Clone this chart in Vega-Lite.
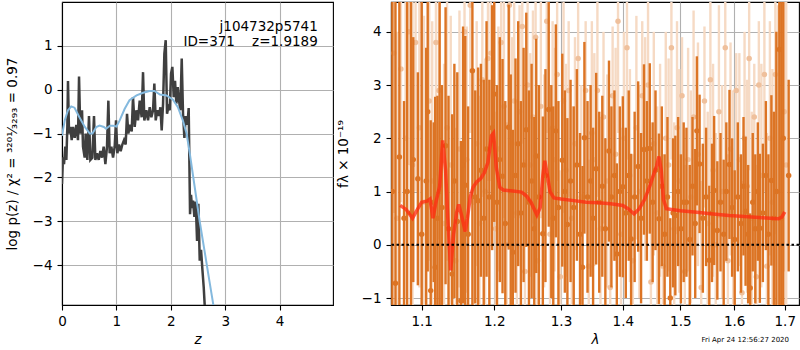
{
"$schema":"https://vega.github.io/schema/vega-lite/v6.json",
"padding":{"left":4,"top":1,"right":0,"bottom":0},
"background":"white",
"spacing":58,
"bounds":"flush",
"config":{
 "font":"DejaVu Sans",
 "view":{"stroke":"black","strokeWidth":1.1},
 "axis":{"labelFont":"DejaVu Sans","labelFontSize":13.5,"labelColor":"black","titleFont":"DejaVu Sans","titleFontSize":13.5,"titleFontWeight":"normal","titleColor":"black","tickColor":"black","tickSize":5,"tickWidth":1.1,"domainColor":"black","domainWidth":1.1,"gridColor":"#b0b0b0","gridWidth":1.1,"zindex":1,"labelFlush":false,"labelOverlap":false},
 "axisX":{"labelPadding":4,"titlePadding":5},
 "axisY":{"labelPadding":5}
},
"datasets":{
"pz":[{"z":0.000,"v":-2.15},{"z":0.018,"v":-1.54},{"z":0.037,"v":-1.70},{"z":0.061,"v":-1.30},{"z":0.080,"v":-1.60},{"z":0.098,"v":-0.85},{"z":0.110,"v":0.20},{"z":0.129,"v":-1.00},{"z":0.153,"v":-0.85},{"z":0.178,"v":-1.15},{"z":0.202,"v":-0.85},{"z":0.233,"v":-1.10},{"z":0.263,"v":-0.80},{"z":0.294,"v":-1.15},{"z":0.313,"v":0.30},{"z":0.337,"v":-1.00},{"z":0.368,"v":-0.47},{"z":0.386,"v":-1.30},{"z":0.417,"v":-1.55},{"z":0.435,"v":-1.00},{"z":0.466,"v":-1.60},{"z":0.496,"v":-0.60},{"z":0.521,"v":-1.60},{"z":0.558,"v":-1.55},{"z":0.588,"v":-0.60},{"z":0.613,"v":-1.60},{"z":0.643,"v":-1.45},{"z":0.674,"v":-1.60},{"z":0.705,"v":-1.40},{"z":0.735,"v":-1.55},{"z":0.766,"v":-1.30},{"z":0.797,"v":-1.70},{"z":0.827,"v":-1.30},{"z":0.852,"v":-0.25},{"z":0.876,"v":-1.45},{"z":0.907,"v":-1.30},{"z":0.938,"v":-1.55},{"z":0.968,"v":-1.30},{"z":0.993,"v":-0.70},{"z":1.017,"v":-1.45},{"z":1.048,"v":-1.25},{"z":1.078,"v":-1.40},{"z":1.109,"v":-1.25},{"z":1.140,"v":-1.15},{"z":1.170,"v":-1.25},{"z":1.195,"v":-0.55},{"z":1.219,"v":-1.00},{"z":1.250,"v":-0.80},{"z":1.281,"v":-0.95},{"z":1.305,"v":-0.17},{"z":1.336,"v":-0.85},{"z":1.366,"v":-0.47},{"z":1.397,"v":-0.70},{"z":1.428,"v":-0.25},{"z":1.464,"v":-0.63},{"z":1.489,"v":0.40},{"z":1.513,"v":-0.70},{"z":1.550,"v":-0.47},{"z":1.581,"v":-0.70},{"z":1.612,"v":-0.40},{"z":1.642,"v":-0.63},{"z":1.673,"v":-0.47},{"z":1.697,"v":0.14},{"z":1.722,"v":-0.70},{"z":1.752,"v":-0.47},{"z":1.783,"v":-0.60},{"z":1.808,"v":-0.40},{"z":1.832,"v":-0.93},{"z":1.857,"v":-0.32},{"z":1.881,"v":0.82},{"z":1.906,"v":1.13},{"z":1.930,"v":-0.55},{"z":1.955,"v":-0.40},{"z":1.979,"v":-0.47},{"z":2.004,"v":0.37},{"z":2.028,"v":0.52},{"z":2.053,"v":-0.17},{"z":2.077,"v":0.20},{"z":2.102,"v":-0.32},{"z":2.126,"v":0.06},{"z":2.151,"v":-0.25},{"z":2.175,"v":-0.47},{"z":2.200,"v":0.71},{"z":2.224,"v":-0.55},{"z":2.249,"v":-1.10},{"z":2.273,"v":-0.60},{"z":2.304,"v":-0.80},{"z":2.328,"v":-0.42},{"z":2.353,"v":-2.84},{"z":2.371,"v":-2.40},{"z":2.390,"v":-2.70},{"z":2.408,"v":-2.53},{"z":2.433,"v":-2.90},{"z":2.457,"v":-2.55},{"z":2.482,"v":-3.45},{"z":2.506,"v":-2.60},{"z":2.531,"v":-3.90},{"z":2.555,"v":-3.65},{"z":2.580,"v":-4.10},{"z":2.604,"v":-4.50},{"z":2.635,"v":-5.20}],
"fit":[{"z":0.00,"v":-1.05},{"z":0.05,"v":-0.70},{"z":0.11,"v":-0.47},{"z":0.17,"v":-0.38},{"z":0.23,"v":-0.41},{"z":0.32,"v":-0.63},{"z":0.42,"v":-0.85},{"z":0.51,"v":-1.00},{"z":0.56,"v":-1.00},{"z":0.63,"v":-0.85},{"z":0.69,"v":-0.82},{"z":0.77,"v":-0.85},{"z":0.81,"v":-0.89},{"z":0.88,"v":-0.82},{"z":0.94,"v":-0.82},{"z":1.00,"v":-0.84},{"z":1.06,"v":-0.70},{"z":1.15,"v":-0.44},{"z":1.24,"v":-0.24},{"z":1.37,"v":-0.13},{"z":1.49,"v":-0.07},{"z":1.61,"v":-0.03},{"z":1.70,"v":-0.03},{"z":1.80,"v":-0.11},{"z":1.92,"v":-0.13},{"z":2.04,"v":-0.23},{"z":2.13,"v":-0.40},{"z":2.22,"v":-0.70},{"z":2.29,"v":-1.00},{"z":2.35,"v":-1.47},{"z":2.44,"v":-2.23},{"z":2.53,"v":-3.00},{"z":2.62,"v":-3.68},{"z":2.71,"v":-4.37},{"z":2.80,"v":-5.05}],
"mod":[{"l":1.072,"f":0.74},{"l":1.080,"f":0.66},{"l":1.088,"f":0.50},{"l":1.095,"f":0.68},{"l":1.100,"f":0.80},{"l":1.107,"f":0.82},{"l":1.111,"f":0.86},{"l":1.115,"f":0.50},{"l":1.119,"f":0.80},{"l":1.124,"f":1.10},{"l":1.128,"f":1.96},{"l":1.132,"f":1.40},{"l":1.135,"f":0.50},{"l":1.139,"f":-0.48},{"l":1.143,"f":0.20},{"l":1.147,"f":0.60},{"l":1.150,"f":0.76},{"l":1.154,"f":0.55},{"l":1.159,"f":0.25},{"l":1.162,"f":0.50},{"l":1.166,"f":0.90},{"l":1.170,"f":1.08},{"l":1.175,"f":1.18},{"l":1.181,"f":1.25},{"l":1.186,"f":1.36},{"l":1.191,"f":1.55},{"l":1.196,"f":2.05},{"l":1.199,"f":2.10},{"l":1.203,"f":1.45},{"l":1.208,"f":1.08},{"l":1.213,"f":1.03},{"l":1.227,"f":1.01},{"l":1.240,"f":0.99},{"l":1.247,"f":0.92},{"l":1.254,"f":0.80},{"l":1.263,"f":0.56},{"l":1.268,"f":0.70},{"l":1.272,"f":1.30},{"l":1.275,"f":1.58},{"l":1.279,"f":1.30},{"l":1.283,"f":1.00},{"l":1.289,"f":0.88},{"l":1.300,"f":0.86},{"l":1.320,"f":0.83},{"l":1.340,"f":0.80},{"l":1.360,"f":0.79},{"l":1.380,"f":0.77},{"l":1.400,"f":0.74},{"l":1.410,"f":0.67},{"l":1.419,"f":0.58},{"l":1.428,"f":0.68},{"l":1.437,"f":0.85},{"l":1.446,"f":1.10},{"l":1.452,"f":1.30},{"l":1.458,"f":1.48},{"l":1.462,"f":1.66},{"l":1.466,"f":1.40},{"l":1.470,"f":0.85},{"l":1.475,"f":0.68},{"l":1.500,"f":0.64},{"l":1.530,"f":0.61},{"l":1.560,"f":0.58},{"l":1.590,"f":0.55},{"l":1.620,"f":0.53},{"l":1.655,"f":0.51},{"l":1.687,"f":0.49},{"l":1.694,"f":0.52},{"l":1.700,"f":0.62}],
"dk":[{"l":1.062,"f":1.0,"lo":-4,"hi":6},{"l":1.066,"f":-0.72,"lo":-6.22,"hi":4.78},{"l":1.071,"f":1.65,"lo":-2.35,"hi":5.65},{"l":1.077,"f":0.5,"lo":-1.7,"hi":2.7},{"l":1.081,"f":1.0,"lo":-3.5,"hi":5.5},{"l":1.086,"f":0.6,"lo":-4.4,"hi":5.6},{"l":1.089,"f":1.6,"lo":-0.7,"hi":3.9},{"l":1.095,"f":1.24,"lo":-0.76,"hi":3.24},{"l":1.100,"f":0.2,"lo":-4.3,"hi":4.7},{"l":1.106,"f":1.2,"lo":-1.3,"hi":3.7},{"l":1.108,"f":2.5,"lo":-0.5,"hi":5.5},{"l":1.112,"f":-0.86,"lo":-4.06,"hi":2.34},{"l":1.116,"f":0.8,"lo":-0.7,"hi":2.3},{"l":1.118,"f":-0.42,"lo":-3.62,"hi":2.78},{"l":1.121,"f":0.5,"lo":-1.8,"hi":2.8},{"l":1.124,"f":1.0,"lo":-3.5,"hi":5.5},{"l":1.127,"f":0.7,"lo":-1.6,"hi":3.0},{"l":1.132,"f":1.86,"lo":-0.74,"hi":4.46},{"l":1.136,"f":0.3,"lo":-2.2,"hi":2.8},{"l":1.141,"f":-0.55,"lo":-3.55,"hi":2.45},{"l":1.144,"f":1.2,"lo":-1.0,"hi":3.4},{"l":1.148,"f":0.44,"lo":-2.36,"hi":3.24},{"l":1.153,"f":-1.05,"lo":-4.05,"hi":1.95},{"l":1.156,"f":1.5,"lo":-1.1,"hi":4.1},{"l":1.159,"f":1.12,"lo":-1.68,"hi":3.92},{"l":1.163,"f":0.2,"lo":-2.2,"hi":2.6},{"l":1.169,"f":3.27,"lo":-1.23,"hi":7.77},{"l":1.173,"f":0.9,"lo":-1.1,"hi":2.9},{"l":1.177,"f":0.83,"lo":-1.67,"hi":3.33},{"l":1.181,"f":1.4,"lo":-0.6,"hi":3.4},{"l":1.185,"f":0.5,"lo":-2.1,"hi":3.1},{"l":1.189,"f":1.8,"lo":-0.6,"hi":4.2},{"l":1.193,"f":0.9,"lo":-1.3,"hi":3.1},{"l":1.197,"f":2.2,"lo":-0.1,"hi":4.5},{"l":1.200,"f":2.83,"lo":0.43,"hi":5.23},{"l":1.204,"f":0.8,"lo":-1.4,"hi":3.0},{"l":1.208,"f":1.6,"lo":-0.7,"hi":3.9},{"l":1.212,"f":1.29,"lo":-0.91,"hi":3.49},{"l":1.216,"f":0.4,"lo":-1.9,"hi":2.7},{"l":1.221,"f":2.21,"lo":-0.09,"hi":4.51},{"l":1.224,"f":1.0,"lo":-1.2,"hi":3.2},{"l":1.227,"f":-0.14,"lo":-2.44,"hi":2.16},{"l":1.231,"f":1.3,"lo":-0.9,"hi":3.5},{"l":1.235,"f":1.9,"lo":-0.4,"hi":4.2},{"l":1.239,"f":0.6,"lo":-1.5,"hi":2.7},{"l":1.243,"f":1.5,"lo":-0.7,"hi":3.7},{"l":1.247,"f":2.16,"lo":-0.04,"hi":4.36},{"l":1.251,"f":0.8,"lo":-1.3,"hi":2.9},{"l":1.255,"f":1.2,"lo":-1.0,"hi":3.4},{"l":1.259,"f":0.3,"lo":-1.8,"hi":2.4},{"l":1.262,"f":1.67,"lo":-0.53,"hi":3.87},{"l":1.266,"f":0.9,"lo":-1.2,"hi":3.0},{"l":1.272,"f":0.21,"lo":-1.99,"hi":2.41},{"l":1.276,"f":1.3,"lo":-0.7,"hi":3.3},{"l":1.281,"f":2.54,"lo":0.34,"hi":4.74},{"l":1.285,"f":1.0,"lo":-1.0,"hi":3.0},{"l":1.288,"f":0.5,"lo":-1.6,"hi":2.6},{"l":1.292,"f":2.14,"lo":0.14,"hi":4.14},{"l":1.296,"f":0.7,"lo":-1.3,"hi":2.7},{"l":1.302,"f":1.59,"lo":-0.41,"hi":3.59},{"l":1.306,"f":1.0,"lo":-0.9,"hi":2.9},{"l":1.310,"f":0.38,"lo":-1.62,"hi":2.38},{"l":1.315,"f":1.2,"lo":-0.7,"hi":3.1},{"l":1.320,"f":0.7,"lo":-1.2,"hi":2.6},{"l":1.325,"f":1.5,"lo":-0.3,"hi":3.3},{"l":1.330,"f":0.2,"lo":-1.7,"hi":2.1},{"l":1.334,"f":-0.42,"lo":-2.32,"hi":1.48},{"l":1.337,"f":2.01,"lo":0.21,"hi":3.81},{"l":1.342,"f":0.9,"lo":-0.9,"hi":2.7},{"l":1.347,"f":1.2,"lo":-0.6,"hi":3.0},{"l":1.351,"f":0.5,"lo":-1.2,"hi":2.2},{"l":1.356,"f":1.43,"lo":-0.37,"hi":3.23},{"l":1.361,"f":0.8,"lo":-0.9,"hi":2.5},{"l":1.366,"f":1.1,"lo":-0.6,"hi":2.8},{"l":1.371,"f":0.3,"lo":-1.4,"hi":2.0},{"l":1.377,"f":1.76,"lo":0.06,"hi":3.46},{"l":1.381,"f":0.9,"lo":-0.8,"hi":2.6},{"l":1.386,"f":1.3,"lo":-0.3,"hi":2.9},{"l":1.390,"f":-0.17,"lo":-1.87,"hi":1.53},{"l":1.395,"f":1.0,"lo":-0.6,"hi":2.6},{"l":1.400,"f":1.09,"lo":-0.61,"hi":2.79},{"l":1.405,"f":0.6,"lo":-1.0,"hi":2.2},{"l":1.410,"f":1.3,"lo":-0.3,"hi":2.9},{"l":1.414,"f":0.11,"lo":-1.49,"hi":1.71},{"l":1.420,"f":0.9,"lo":-0.7,"hi":2.5},{"l":1.426,"f":1.47,"lo":-0.13,"hi":3.07},{"l":1.431,"f":0.5,"lo":-1.1,"hi":2.1},{"l":1.436,"f":1.79,"lo":0.19,"hi":3.39},{"l":1.441,"f":1.2,"lo":-0.3,"hi":2.7},{"l":1.446,"f":1.81,"lo":0.21,"hi":3.41},{"l":1.451,"f":0.8,"lo":-0.7,"hi":2.3},{"l":1.456,"f":1.4,"lo":-0.1,"hi":2.9},{"l":1.462,"f":0.49,"lo":-1.11,"hi":2.09},{"l":1.467,"f":1.1,"lo":-0.4,"hi":2.6},{"l":1.472,"f":0.2,"lo":-1.3,"hi":1.7},{"l":1.477,"f":0.9,"lo":-0.6,"hi":2.4},{"l":1.482,"f":-1.0,"lo":-2.5,"hi":0.5},{"l":1.487,"f":0.6,"lo":-0.8,"hi":2.0},{"l":1.491,"f":0.55,"lo":-0.95,"hi":2.05},{"l":1.496,"f":1.0,"lo":-0.4,"hi":2.4},{"l":1.501,"f":0.3,"lo":-1.1,"hi":1.7},{"l":1.506,"f":0.8,"lo":-0.7,"hi":2.3},{"l":1.511,"f":0.8,"lo":-0.6,"hi":2.2},{"l":1.517,"f":0.1,"lo":-1.3,"hi":1.5},{"l":1.522,"f":1.1,"lo":-0.2,"hi":2.4},{"l":1.527,"f":0.4,"lo":-1.0,"hi":1.8},{"l":1.530,"f":2.14,"lo":0.74,"hi":3.54},{"l":1.535,"f":1.52,"lo":0.22,"hi":2.82},{"l":1.541,"f":0.5,"lo":-0.9,"hi":1.9},{"l":1.547,"f":0.9,"lo":-0.4,"hi":2.2},{"l":1.553,"f":-0.29,"lo":-1.69,"hi":1.11},{"l":1.558,"f":0.6,"lo":-0.7,"hi":1.9},{"l":1.562,"f":1.02,"lo":-0.38,"hi":2.42},{"l":1.568,"f":0.27,"lo":-1.03,"hi":1.57},{"l":1.574,"f":0.8,"lo":-0.5,"hi":2.1},{"l":1.580,"f":0.2,"lo":-1.2,"hi":1.6},{"l":1.585,"f":1.0,"lo":-0.3,"hi":2.3},{"l":1.591,"f":1.51,"lo":0.11,"hi":2.91},{"l":1.596,"f":0.7,"lo":-0.6,"hi":2.0},{"l":1.601,"f":0.1,"lo":-1.2,"hi":1.4},{"l":1.607,"f":0.9,"lo":-0.5,"hi":2.3},{"l":1.613,"f":0.4,"lo":-0.9,"hi":1.7},{"l":1.618,"f":1.1,"lo":-0.2,"hi":2.4},{"l":1.622,"f":0.63,"lo":-0.77,"hi":2.03},{"l":1.627,"f":0.2,"lo":-1.1,"hi":1.5},{"l":1.631,"f":-0.81,"lo":-2.21,"hi":0.59},{"l":1.636,"f":0.8,"lo":-0.5,"hi":2.1},{"l":1.641,"f":0.3,"lo":-1.1,"hi":1.7},{"l":1.646,"f":1.0,"lo":-0.3,"hi":2.3},{"l":1.650,"f":0.31,"lo":-1.09,"hi":1.71},{"l":1.656,"f":0.6,"lo":-0.7,"hi":1.9},{"l":1.662,"f":1.3,"lo":-0.1,"hi":2.7},{"l":1.667,"f":0.2,"lo":-1.3,"hi":1.7},{"l":1.673,"f":1.21,"lo":-0.39,"hi":2.81},{"l":1.678,"f":0.5,"lo":-1.5,"hi":2.5},{"l":1.683,"f":1.0,"lo":-2.0,"hi":4.0},{"l":1.689,"f":3.67,"lo":-1.33,"hi":8.67},{"l":1.693,"f":0.5,"lo":-4.5,"hi":5.5},{"l":1.697,"f":2.0,"lo":-3,"hi":7},{"l":1.708,"f":1.3,"lo":-0.5,"hi":3.1}],
"lt":[{"l":1.064,"f":3.6,"lo":0.6,"hi":6.6},{"l":1.068,"f":0.5,"lo":-3.0,"hi":4.0},{"l":1.073,"f":3.3,"lo":0.8,"hi":5.8},{"l":1.079,"f":2.0,"lo":-1.0,"hi":5.0},{"l":1.083,"f":4.0,"lo":1.5,"hi":6.5},{"l":1.088,"f":1.5,"lo":-1.7,"hi":4.7},{"l":1.092,"f":3.8,"lo":1.0,"hi":6.6},{"l":1.097,"f":2.2,"lo":-0.8,"hi":5.2},{"l":1.103,"f":0.8,"lo":-2.7,"hi":4.3},{"l":1.110,"f":2.7,"lo":-0.3,"hi":5.7},{"l":1.114,"f":1.2,"lo":-1.8,"hi":4.2},{"l":1.119,"f":3.8,"lo":1.3,"hi":6.3},{"l":1.123,"f":2.9,"lo":0.1,"hi":5.7},{"l":1.130,"f":0.4,"lo":-2.6,"hi":3.4},{"l":1.134,"f":2.2,"lo":-0.3,"hi":4.7},{"l":1.139,"f":1.5,"lo":-1.3,"hi":4.3},{"l":1.146,"f":-0.3,"lo":-2.8,"hi":2.2},{"l":1.151,"f":1.8,"lo":-0.8,"hi":4.4},{"l":1.158,"f":4.0,"lo":1.8,"hi":6.2},{"l":1.161,"f":1.6,"lo":-0.9,"hi":4.1},{"l":1.166,"f":4.5,"lo":2.1,"hi":6.9},{"l":1.171,"f":0.8,"lo":-1.7,"hi":3.3},{"l":1.175,"f":1.9,"lo":-0.4,"hi":4.2},{"l":1.179,"f":0.4,"lo":-2.0,"hi":2.8},{"l":1.183,"f":3.1,"lo":0.9,"hi":5.3},{"l":1.187,"f":1.0,"lo":-1.5,"hi":3.5},{"l":1.191,"f":3.5,"lo":1.2,"hi":5.8},{"l":1.195,"f":3.6,"lo":1.2,"hi":6.0},{"l":1.202,"f":0.3,"lo":-1.9,"hi":2.5},{"l":1.206,"f":1.8,"lo":-0.5,"hi":4.1},{"l":1.210,"f":3.8,"lo":1.6,"hi":6.0},{"l":1.214,"f":2.6,"lo":0.5,"hi":4.7},{"l":1.218,"f":0.0,"lo":-2.3,"hi":2.3},{"l":1.222,"f":4.5,"lo":2.3,"hi":6.7},{"l":1.226,"f":1.9,"lo":-0.1,"hi":3.9},{"l":1.229,"f":2.7,"lo":0.5,"hi":4.9},{"l":1.233,"f":0.6,"lo":-1.5,"hi":2.7},{"l":1.237,"f":2.5,"lo":0.5,"hi":4.5},{"l":1.241,"f":4.1,"lo":1.9,"hi":6.3},{"l":1.245,"f":-0.5,"lo":-2.6,"hi":1.6},{"l":1.249,"f":3.0,"lo":1.0,"hi":5.0},{"l":1.253,"f":1.5,"lo":-0.6,"hi":3.6},{"l":1.257,"f":2.4,"lo":0.4,"hi":4.4},{"l":1.261,"f":3.9,"lo":1.7,"hi":6.1},{"l":1.264,"f":-0.3,"lo":-2.3,"hi":1.7},{"l":1.269,"f":2.6,"lo":0.5,"hi":4.7},{"l":1.274,"f":1.2,"lo":-0.8,"hi":3.2},{"l":1.278,"f":4.2,"lo":2.1,"hi":6.3},{"l":1.283,"f":0.2,"lo":-1.8,"hi":2.2},{"l":1.287,"f":2.2,"lo":0.2,"hi":4.2},{"l":1.290,"f":1.6,"lo":-0.5,"hi":3.7},{"l":1.294,"f":3.2,"lo":1.2,"hi":5.2},{"l":1.299,"f":-0.6,"lo":-2.6,"hi":1.4},{"l":1.304,"f":2.7,"lo":0.6,"hi":4.8},{"l":1.308,"f":1.4,"lo":-0.6,"hi":3.4},{"l":1.312,"f":2.9,"lo":0.9,"hi":4.2},{"l":1.317,"f":0.5,"lo":-1.6,"hi":2.6},{"l":1.322,"f":1.9,"lo":-0.1,"hi":3.9},{"l":1.327,"f":3.5,"lo":1.5,"hi":5.5},{"l":1.332,"f":0.9,"lo":-1.2,"hi":3.0},{"l":1.339,"f":2.9,"lo":0.9,"hi":4.2},{"l":1.344,"f":-0.4,"lo":-2.4,"hi":1.6},{"l":1.349,"f":2.1,"lo":0.0,"hi":4.2},{"l":1.353,"f":1.6,"lo":-0.4,"hi":3.6},{"l":1.358,"f":2.9,"lo":0.9,"hi":4.9},{"l":1.363,"f":0.3,"lo":-1.8,"hi":2.4},{"l":1.368,"f":2.4,"lo":0.4,"hi":4.0},{"l":1.374,"f":1.2,"lo":-0.8,"hi":3.2},{"l":1.379,"f":-0.8,"lo":-2.9,"hi":1.3},{"l":1.383,"f":2.8,"lo":0.8,"hi":4.1},{"l":1.388,"f":1.7,"lo":-0.3,"hi":3.7},{"l":1.392,"f":4.2,"lo":2.1,"hi":6.3},{"l":1.397,"f":0.2,"lo":-1.8,"hi":2.2},{"l":1.402,"f":2.0,"lo":0.0,"hi":4.0},{"l":1.407,"f":3.7,"lo":1.6,"hi":5.8},{"l":1.412,"f":1.3,"lo":-0.7,"hi":3.3},{"l":1.417,"f":-0.3,"lo":-2.3,"hi":1.7},{"l":1.423,"f":2.2,"lo":0.1,"hi":4.3},{"l":1.428,"f":1.0,"lo":-1.0,"hi":3.0},{"l":1.433,"f":2.8,"lo":0.8,"hi":4.2},{"l":1.438,"f":1.8,"lo":-0.3,"hi":3.9},{"l":1.443,"f":3.0,"lo":1.0,"hi":5.0},{"l":1.448,"f":-0.7,"lo":-2.7,"hi":1.3},{"l":1.453,"f":1.9,"lo":-0.2,"hi":4.0},{"l":1.459,"f":0.6,"lo":-1.4,"hi":2.6},{"l":1.464,"f":1.4,"lo":-0.6,"hi":3.4},{"l":1.469,"f":-0.4,"lo":-2.5,"hi":1.7},{"l":1.474,"f":2.0,"lo":0.0,"hi":4.0},{"l":1.479,"f":1.5,"lo":-0.5,"hi":3.5},{"l":1.484,"f":3.7,"lo":1.6,"hi":5.8},{"l":1.489,"f":0.3,"lo":-1.7,"hi":2.3},{"l":1.494,"f":2.2,"lo":0.2,"hi":4.2},{"l":1.498,"f":1.2,"lo":-0.9,"hi":3.3},{"l":1.503,"f":2.8,"lo":0.8,"hi":3.9},{"l":1.508,"f":-0.5,"lo":-2.5,"hi":1.5},{"l":1.514,"f":1.6,"lo":-0.5,"hi":3.7},{"l":1.519,"f":0.9,"lo":-1.1,"hi":2.9},{"l":1.524,"f":2.4,"lo":0.4,"hi":4.4},{"l":1.532,"f":1.7,"lo":-0.4,"hi":3.8},{"l":1.538,"f":-0.8,"lo":-2.8,"hi":1.2},{"l":1.544,"f":2.7,"lo":0.7,"hi":4.1},{"l":1.550,"f":0.4,"lo":-1.7,"hi":2.5},{"l":1.555,"f":3.1,"lo":1.1,"hi":5.1},{"l":1.560,"f":1.4,"lo":-0.6,"hi":3.4},{"l":1.565,"f":0.0,"lo":-2.1,"hi":2.1},{"l":1.571,"f":2.5,"lo":0.5,"hi":4.5},{"l":1.577,"f":1.0,"lo":-1.0,"hi":3.0},{"l":1.583,"f":3.7,"lo":1.6,"hi":5.8},{"l":1.588,"f":-0.3,"lo":-2.3,"hi":1.7},{"l":1.593,"f":1.8,"lo":-0.2,"hi":3.8},{"l":1.598,"f":0.8,"lo":-1.3,"hi":2.9},{"l":1.604,"f":2.9,"lo":0.9,"hi":3.6},{"l":1.610,"f":1.6,"lo":-0.4,"hi":3.6},{"l":1.615,"f":-0.9,"lo":-3.0,"hi":1.2},{"l":1.620,"f":2.0,"lo":0.0,"hi":4.0},{"l":1.625,"f":1.1,"lo":-0.9,"hi":3.1},{"l":1.629,"f":3.5,"lo":1.4,"hi":5.6},{"l":1.634,"f":0.5,"lo":-1.5,"hi":2.5},{"l":1.639,"f":2.4,"lo":0.4,"hi":3.4},{"l":1.643,"f":-0.6,"lo":-2.7,"hi":1.5},{"l":1.648,"f":3.0,"lo":1.0,"hi":4.2},{"l":1.653,"f":1.3,"lo":-0.8,"hi":3.4},{"l":1.659,"f":3.2,"lo":1.0,"hi":5.4},{"l":1.664,"f":-0.4,"lo":-2.9,"hi":2.1},{"l":1.670,"f":2.0,"lo":-0.2,"hi":4.2},{"l":1.675,"f":0.8,"lo":-1.7,"hi":3.3},{"l":1.681,"f":3.2,"lo":0.2,"hi":6.2},{"l":1.686,"f":1.0,"lo":-2.5,"hi":4.5},{"l":1.699,"f":2.5,"lo":-0.5,"hi":5.5},{"l":1.703,"f":1.5,"lo":-2.0,"hi":5.0}]
},
"hconcat":[
 {
  "width":271,"height":303,
  "layer":[
   {"data":{"name":"pz"},"mark":{"type":"line","color":"#3f3f3f","strokeWidth":2.5,"clip":true},
    "encoding":{
     "x":{"field":"z","type":"quantitative","scale":{"domain":[0,4.98],"nice":false,"zero":false},"axis":{"values":[0,1,2,3,4],"title":"z","titleFontStyle":"italic"}},
     "y":{"field":"v","type":"quantitative","scale":{"domain":[-4.91,2.0],"nice":false,"zero":false},"axis":{"values":[-4,-3,-2,-1,0,1],"title":"log p(z) / χ² = ³²⁰¹⁄₃₂₉₃ = 0.97","titlePadding":13}}}},
   {"data":{"name":"fit"},"mark":{"type":"line","color":"#84b9de","strokeWidth":2,"clip":true},
    "encoding":{
     "x":{"field":"z","type":"quantitative","title":"z"},
     "y":{"field":"v","type":"quantitative","title":"log p(z) / χ² = ³²⁰¹⁄₃₂₉₃ = 0.97"}}},
   {"data":{"values":[{}]},"mark":{"type":"text","text":["j104732p5741","ID=371\u00a0\u00a0\u00a0\u00a0z=1.9189"],"align":"right","baseline":"middle","fontSize":13.5,"lineHeight":14.5,"color":"black","font":"DejaVu Sans"},
    "encoding":{"x":{"datum":4.70},"y":{"datum":1.42}}}
  ]
 },
 {
  "width":408,"height":303,
  "title":{"text":"Fri Apr 24 12:56:27 2020","orient":"bottom","anchor":"end","fontSize":7,"fontWeight":"normal","font":"DejaVu Sans","color":"black","offset":-10,"dx":-11},
  "layer":[
   {"data":{"name":"lt"},"mark":{"type":"rule","color":"#f6dac4","strokeWidth":2.4,"clip":true},
    "encoding":{
     "x":{"field":"l","type":"quantitative","scale":{"type":"log","domain":[1.0603,1.7293],"nice":false},"axis":{"values":[1.1,1.2,1.3,1.4,1.5,1.6,1.7],"format":".1f","title":"λ","titleFontStyle":"italic"}},
     "y":{"field":"lo","type":"quantitative","scale":{"domain":[-1.13,4.56],"nice":false,"zero":false},"axis":{"values":[-1,0,1,2,3,4],"title":"fλ × 10⁻¹⁹","titlePadding":11}},
     "y2":{"field":"hi"}}},
   {"data":{"name":"lt"},"mark":{"type":"circle","color":"#efc09c","opacity":1,"size":30,"clip":true},
    "encoding":{"x":{"field":"l","type":"quantitative","title":"λ"},"y":{"field":"f","type":"quantitative","title":"fλ × 10⁻¹⁹"}}},
   {"data":{"name":"dk"},"mark":{"type":"rule","color":"#dc7424","strokeWidth":2.4,"clip":true},
    "encoding":{"x":{"field":"l","type":"quantitative","title":"λ"},"y":{"field":"lo","type":"quantitative","title":"fλ × 10⁻¹⁹"},"y2":{"field":"hi"}}},
   {"data":{"name":"dk"},"mark":{"type":"circle","color":"#dc7424","opacity":1,"size":30,"clip":true},
    "encoding":{"x":{"field":"l","type":"quantitative","title":"λ"},"y":{"field":"f","type":"quantitative","title":"fλ × 10⁻¹⁹"}}},
   {"data":{"name":"mod"},"mark":{"type":"line","color":"#ff2a10","opacity":0.75,"strokeWidth":3.5},
    "encoding":{"x":{"field":"l","type":"quantitative","title":"λ"},"y":{"field":"f","type":"quantitative","title":"fλ × 10⁻¹⁹"}}},
   {"data":{"values":[{}]},"mark":{"type":"rule","color":"black","strokeDash":[2.5,2.5],"strokeWidth":2},
    "encoding":{"y":{"datum":0}}}
  ]
 }
]
}
